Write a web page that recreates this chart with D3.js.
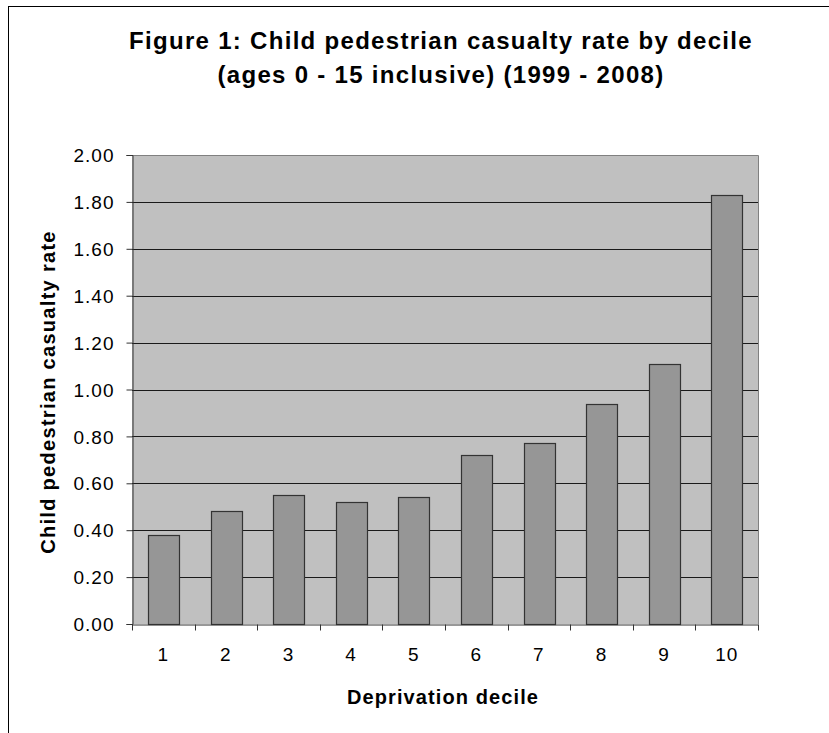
<!DOCTYPE html>
<html>
<head>
<meta charset="utf-8">
<script src="https://cdn.jsdelivr.net/npm/d3@7"></script>
<style>
  body { margin: 0; background: #fff; }
  text { font-family: "Liberation Sans", Arial, sans-serif; fill: #000; }
</style>
</head>
<body>
<script>
// chart data
var deciles = ["1", "2", "3", "4", "5", "6", "7", "8", "9", "10"];
var rates = [0.38, 0.48, 0.55, 0.52, 0.54, 0.72, 0.77, 0.94, 1.11, 1.83];
var yTicks = [0, 0.2, 0.4, 0.6, 0.8, 1.0, 1.2, 1.4, 1.6, 1.8, 2.0];
var titleLines = ["Figure 1: Child pedestrian casualty rate by decile",
                  "(ages 0 - 15 inclusive) (1999 - 2008)"];

var W = 829, H = 733;
var plot = {left: 132, top: 155, right: 758, bottom: 624};

var svg = d3.select("body").append("svg")
    .attr("width", W)
    .attr("height", H);

// outer chart frame (runs off the page right and bottom)
svg.append("rect")
    .attr("x", 8.5).attr("y", 6.5)
    .attr("width", W).attr("height", H)
    .attr("fill", "none")
    .attr("stroke", "#000")
    .attr("stroke-width", 1);

// title
svg.selectAll(".title")
    .data(titleLines)
    .enter().append("text")
    .attr("class", "title")
    .attr("x", 441)
    .attr("y", function(d, i) { return 49 + i * 34; })
    .attr("text-anchor", "middle")
    .style("font-size", "24px")
    .style("font-weight", "bold")
    .style("letter-spacing", "1.3px")
    .text(function(d) { return d; });

var x = d3.scaleBand()
    .domain(deciles)
    .range([plot.left, plot.right])
    .paddingInner(0.51)
    .paddingOuter(0.255);

var y = d3.scaleLinear()
    .domain([0, 2])
    .range([plot.bottom, plot.top]);

// plot background
svg.append("rect")
    .attr("x", plot.left).attr("y", plot.top)
    .attr("width", plot.right - plot.left)
    .attr("height", plot.bottom - plot.top)
    .attr("fill", "#c0c0c0");

// gridlines
svg.append("g")
    .selectAll("line")
    .data(yTicks.filter(function(d) { return d > 0 && d < 2; }))
    .enter().append("line")
    .attr("x1", plot.left).attr("x2", plot.right)
    .attr("y1", function(d) { return Math.round(y(d)) + 0.5; })
    .attr("y2", function(d) { return Math.round(y(d)) + 0.5; })
    .attr("stroke", "#1a1a1a")
    .attr("stroke-width", 1);

// top and right border of plot area
svg.append("path")
    .attr("d", "M" + plot.left + "," + (plot.top + 0.5) + "H" + (plot.right + 0.5) + "V" + plot.bottom)
    .attr("fill", "none")
    .attr("stroke", "#808080")
    .attr("stroke-width", 1);

// bars
svg.append("g")
    .selectAll("rect")
    .data(rates)
    .enter().append("rect")
    .attr("x", function(d, i) { return Math.round(x(deciles[i])) + 0.5; })
    .attr("y", function(d) { return Math.round(y(d)) + 0.5; })
    .attr("width", Math.round(x.bandwidth()))
    .attr("height", function(d) { return plot.bottom - Math.round(y(d)); })
    .attr("fill", "#969696")
    .attr("stroke", "#333")
    .attr("stroke-width", 1.2);

// y axis
var yAxis = d3.axisLeft(y)
    .tickValues(yTicks)
    .tickSize(6)
    .tickPadding(12)
    .tickFormat(d3.format(".2f"));

var gy = svg.append("g")
    .attr("transform", "translate(" + (plot.left + 0.5) + ",0)")
    .call(yAxis);
gy.select(".domain").attr("stroke", "#333");
gy.selectAll(".tick line").attr("stroke", "#333");
gy.selectAll(".tick text")
    .style("font-size", "19px")
    .style("letter-spacing", "1px")
    .attr("dy", "0.35em")
    .attr("fill", "#000");

// x axis: labels centred in bands, ticks between categories
var xAxis = d3.axisBottom(x)
    .tickSize(0)
    .tickPadding(30);

var gx = svg.append("g")
    .attr("transform", "translate(0," + (plot.bottom + 0.5) + ")")
    .call(xAxis);
gx.select(".domain").attr("stroke", "#333");
gx.selectAll(".tick text")
    .style("font-size", "19px")
    .style("letter-spacing", "1px")
    .attr("dy", "0.35em")
    .attr("fill", "#000");

var edges = d3.range(deciles.length + 1).map(function(i) {
    return Math.round(x(deciles[0]) - x.step() * x.paddingOuter() + i * x.step()) + 0.5;
});
gx.selectAll(".sep")
    .data(edges)
    .enter().append("line")
    .attr("class", "sep")
    .attr("x1", function(d) { return d; })
    .attr("x2", function(d) { return d; })
    .attr("y1", 0).attr("y2", 6)
    .attr("stroke", "#333");

// axis titles
svg.append("text")
    .attr("x", 443)
    .attr("y", 704)
    .attr("text-anchor", "middle")
    .style("font-size", "20px")
    .style("font-weight", "bold")
    .style("letter-spacing", "1.1px")
    .text("Deprivation decile");

svg.append("text")
    .attr("transform", "translate(55,392) rotate(-90)")
    .attr("text-anchor", "middle")
    .style("font-size", "20px")
    .style("font-weight", "bold")
    .style("letter-spacing", "1.3px")
    .text("Child pedestrian casualty rate");
</script>
</body>
</html>
